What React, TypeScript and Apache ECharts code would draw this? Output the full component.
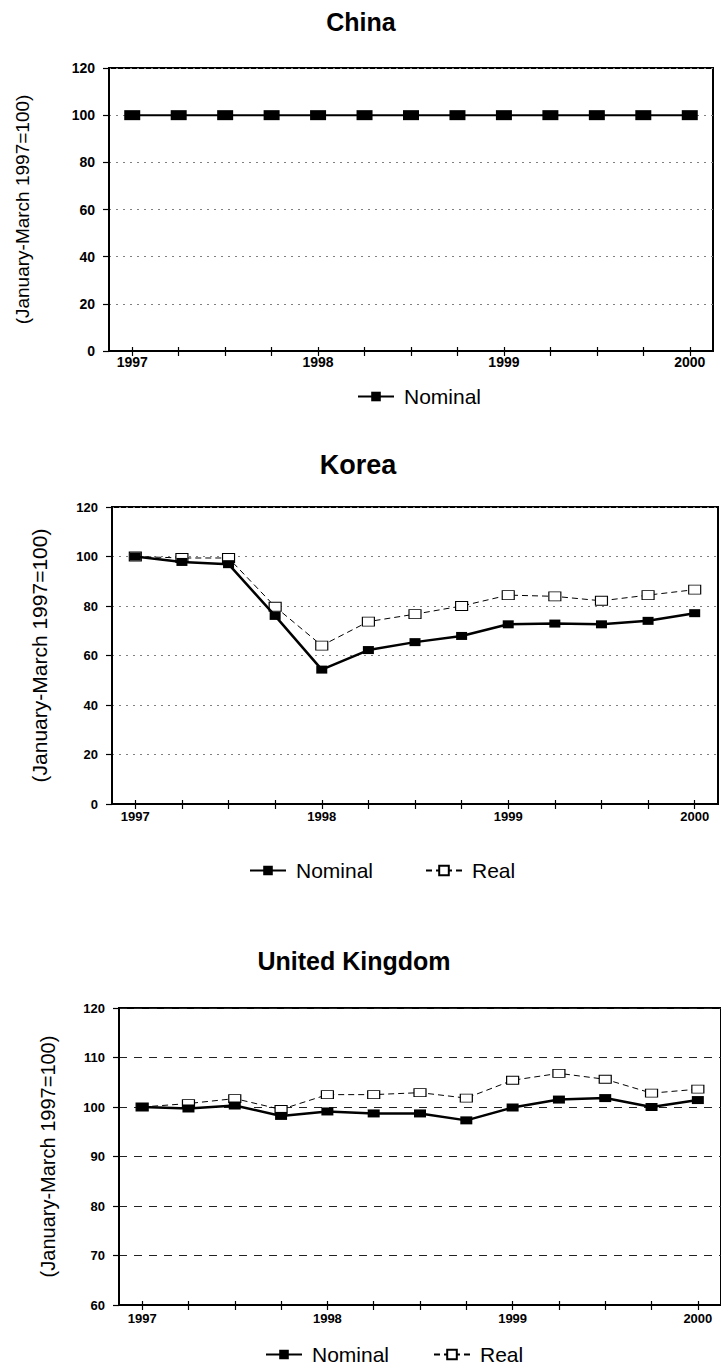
import { useEffect, useRef } from 'react';
import * as echarts from 'echarts';

const quarters = [
  '1997 Q1', '1997 Q2', '1997 Q3', '1997 Q4',
  '1998 Q1', '1998 Q2', '1998 Q3', '1998 Q4',
  '1999 Q1', '1999 Q2', '1999 Q3', '1999 Q4',
  '2000 Q1',
];
const chinaNominal = [100, 100, 100, 100, 100, 100, 100, 100, 100, 100, 100, 100, 100];
const koreaNominal = [100, 97.8, 96.9, 76, 54.3, 62.2, 65.4, 67.9, 72.6, 72.9, 72.6, 74, 77.1];
const koreaReal = [100, 99.4, 99.4, 79.7, 64, 73.7, 76.7, 80, 84.4, 83.9, 82.1, 84.4, 86.6];
const ukNominal = [100, 99.7, 100.3, 98.2, 99.1, 98.7, 98.7, 97.3, 99.9, 101.5, 101.8, 100, 101.4];
const ukReal = [100, 100.7, 101.7, 99.5, 102.5, 102.5, 102.9, 101.8, 105.4, 106.8, 105.6, 102.8, 103.6];

const titles = ['China', 'Korea', 'United Kingdom'];
const yName = '(January-March 1997=100)';

const FONT = "'Liberation Sans', Arial, Helvetica, sans-serif";

export default function App() {
  const ref = useRef<HTMLDivElement>(null);

  useEffect(() => {
    if (!ref.current) return;
    const chart = echarts.init(ref.current, undefined, { renderer: 'svg' });

    const dotted = { color: '#808080', width: 1, type: [2, 5] };
    const dashed = { color: '#222', width: 1, type: [8, 7] };

    const xAxisPair = (gi: number, fontSize: number, margin: number) => [
      {
        type: 'category',
        gridIndex: gi,
        data: quarters,
        boundaryGap: true,
        axisLine: { show: true, lineStyle: { color: '#000', width: 2 } },
        axisTick: { show: true, alignWithLabel: true, interval: 0, length: 5, lineStyle: { color: '#000', width: 1.2 } },
        axisLabel: {
          interval: 0,
          margin,
          fontFamily: FONT,
          fontSize,
          fontWeight: 'bold',
          color: '#000',
          formatter: (v: string) => (v.endsWith('Q1') ? v.slice(0, 4) : ''),
        },
        splitLine: { show: false },
      },
      {
        type: 'category',
        gridIndex: gi,
        position: 'bottom',
        data: quarters,
        boundaryGap: true,
        axisLine: { show: false },
        axisTick: { show: true, inside: true, alignWithLabel: true, interval: 0, length: 4, lineStyle: { color: '#000', width: 1.2 } },
        axisLabel: { show: false },
        splitLine: { show: false },
      },
    ];

    const yAxis = (
      gi: number, min: number, max: number, interval: number,
      fontSize: number, nameSize: number, nameGap: number, split: any,
    ) => ({
      type: 'value',
      gridIndex: gi,
      min,
      max,
      interval,
      name: yName,
      nameLocation: 'middle',
      nameRotate: 90,
      nameGap,
      nameTextStyle: { fontFamily: FONT, fontSize: nameSize, color: '#000' },
      axisLine: { show: true, lineStyle: { color: '#000', width: 2 } },
      axisTick: { show: true, length: 6, lineStyle: { color: '#000', width: 1.2 } },
      axisLabel: { margin: 14, fontFamily: FONT, fontSize, fontWeight: 'bold', color: '#000' },
      splitLine: { show: true, lineStyle: split },
    });

    const nominal = (name: string, xi: number, yi: number, data: number[], size: number[], width: number) => ({
      type: 'line',
      name,
      xAxisIndex: xi,
      yAxisIndex: yi,
      data,
      symbol: 'rect',
      symbolSize: size,
      showAllSymbol: true,
      lineStyle: { color: '#000', width },
      itemStyle: { color: '#000' },
      z: 4,
    });
    const real = (name: string, xi: number, yi: number, data: number[], size: number[]) => ({
      type: 'line',
      name,
      xAxisIndex: xi,
      yAxisIndex: yi,
      data,
      symbol: 'rect',
      symbolSize: size,
      showAllSymbol: true,
      lineStyle: { color: '#000', width: 1, type: [6, 4] },
      itemStyle: { color: '#fff', borderColor: '#000', borderWidth: 1 },
      z: 3,
    });

    const legend = (name: string, left: number, top: number) => ({
      data: [name],
      left,
      top,
      itemWidth: 36,
      itemHeight: 12,
      selectedMode: false,
      formatter: (n: string) => n.split('|')[0],
      textStyle: { fontFamily: FONT, fontSize: 21, color: '#000', padding: [0, 0, 0, 5] },
    });

    const titleText = (text: string, x: number, y: number, size: number) => ({
      type: 'text',
      x,
      y,
      style: {
        text,
        fill: '#000',
        font: `bold ${size}px ${FONT}`,
        align: 'center',
        verticalAlign: 'middle',
        textAlign: 'center',
        textVerticalAlign: 'middle',
      },
    });

    chart.setOption({
      animation: false,
      backgroundColor: '#fff',
      grid: [
        { left: 109, top: 68, width: 604, height: 283, show: true, borderColor: '#000', borderWidth: 2, backgroundColor: 'transparent' },
        { left: 112, top: 507, width: 606, height: 297, show: true, borderColor: '#000', borderWidth: 2, backgroundColor: 'transparent' },
        { left: 119, top: 1008, width: 611, height: 297, show: true, borderColor: '#000', borderWidth: 2, backgroundColor: 'transparent' },
      ],
      xAxis: [...xAxisPair(0, 14, 4), ...xAxisPair(1, 13, 6), ...xAxisPair(2, 13, 7)],
      yAxis: [
        yAxis(0, 0, 120, 20, 14, 19, 77, dotted),
        yAxis(1, 0, 120, 20, 13, 21, 62, dotted),
        yAxis(2, 60, 120, 10, 13, 20, 61, dashed),
      ],
      legend: [
        legend('Nominal|cn', 352, 381),
        legend('Nominal|kr', 244, 855),
        legend('Real|kr', 420, 855),
        legend('Nominal|uk', 260, 1339),
        legend('Real|uk', 428, 1339),
      ],
      graphic: [
        titleText(titles[0], 361, 22, 25),
        titleText(titles[1], 358, 465, 27),
        titleText(titles[2], 354, 961, 25),
      ],
      series: [
        nominal('Nominal|cn', 0, 0, chinaNominal, [16, 10], 2),
        nominal('Nominal|kr', 2, 1, koreaNominal, [11, 8], 2.5),
        real('Real|kr', 2, 1, koreaReal, [12, 9]),
        nominal('Nominal|uk', 4, 2, ukNominal, [12, 8], 2.5),
        real('Real|uk', 4, 2, ukReal, [12, 8]),
      ],
    });

    return () => chart.dispose();
  }, []);

  return (
    <div
      ref={ref}
      style={{ position: 'absolute', left: 0, top: 0, width: 721, height: 1368, background: '#fff' }}
    />
  );
}
